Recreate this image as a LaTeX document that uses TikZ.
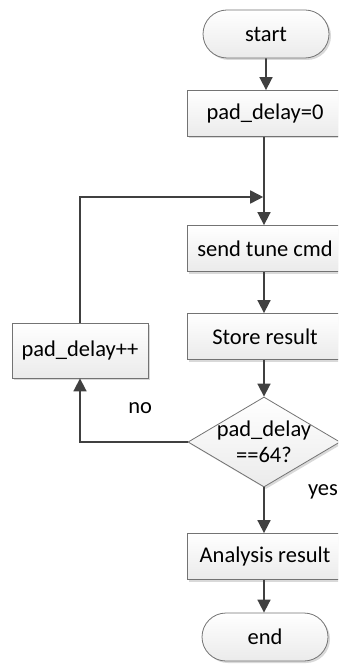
\documentclass[tikz,border=0pt]{standalone}
\usepackage{fontspec}
\setmainfont{Carlito}
\usetikzlibrary{shapes.geometric,shapes.misc,arrows.meta,shadows}
\begin{document}
\begin{tikzpicture}[x=1pt,y=-1pt,
  font=\fontsize{22.5}{26}\selectfont,
  boxstyle/.style={draw=black!55, line width=0.8pt, top color=white, bottom color=black!8,
    drop shadow={shadow xshift=2pt, shadow yshift=-2pt, fill=black!25, opacity=0.6},
    inner sep=0pt},
  procbox/.style={boxstyle, rectangle, minimum width=156pt, minimum height=46pt},
  termbox/.style={boxstyle, rounded rectangle, minimum width=126pt, minimum height=48pt},
  decbox/.style={boxstyle, diamond, minimum width=152pt, minimum height=90pt},
  flow/.style={draw=black!75, line width=1.7pt, -{Triangle[length=13pt, width=13pt]}}]
\useasboundingbox (0,0) rectangle (338,668);
\clip (0,0) rectangle (338,668);

\node[termbox] (start) at (266,34) {start};
\node[procbox] (p0) at (265,113.5) {pad\_delay=0};
\node[procbox] (send) at (265,248.5) {send tune cmd};
\node[procbox] (store) at (265,336.5) {Store result};
\node[decbox, label={[align=center, inner sep=0pt]center:pad\_delay\\[0pt]==64?}] (dec) at (264,442) {};
\node[procbox, minimum width=136pt, minimum height=55pt] (inc) at (80,350.5) {pad\_delay++};
\node[procbox] (ana) at (265,556.5) {Analysis result};
\node[termbox] (end) at (265,637) {end};

\coordinate (join) at (264,197);

% main flow
\draw[flow] (start) -- (start|-p0.north);
\draw[flow] (p0.south-|join) -- (join|-send.north);
\draw[flow] (send.south-|join) -- (join|-store.north);
\draw[flow] (store.south-|join) -- (dec.north);
\draw[flow] (dec.south) -- (dec.south|-ana.north);
\draw[flow] (ana.south-|join) -- (join|-end.north);

% loop back
\draw[flow] (dec.west) -| node[pos=0.22, yshift=34pt] {no} (inc.south);
\draw[flow, shorten >=0.8pt] (inc.north) |- (join);

\node (yes) at (323,492) {yes};
\end{tikzpicture}
\end{document}
